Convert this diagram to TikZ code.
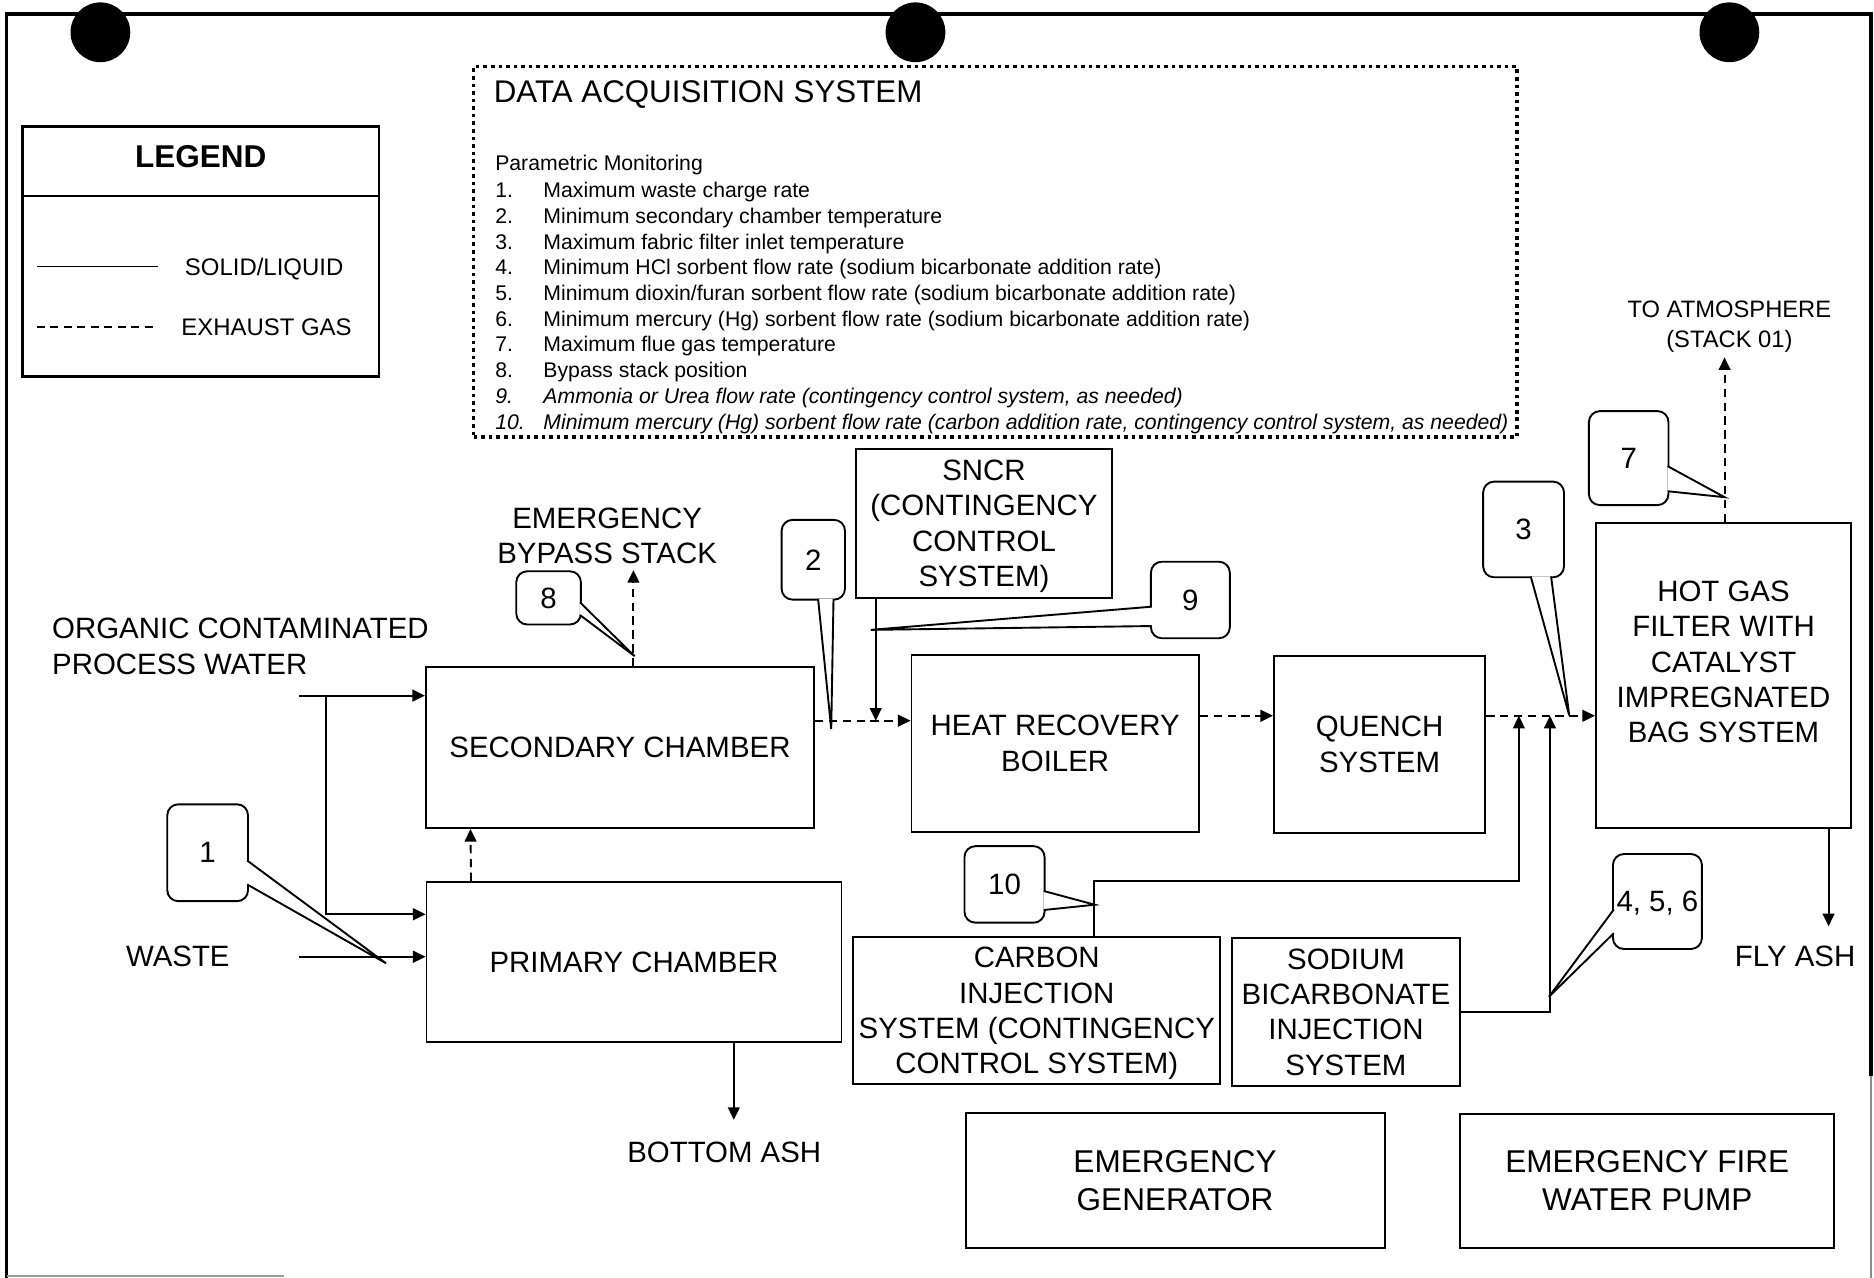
\documentclass[tikz,border=0pt]{standalone}
\usepackage{fontspec}
\setmainfont{Liberation Sans}
\usetikzlibrary{arrows.meta,positioning,calc}
\tikzset{
  flowarr/.style={-{Triangle[length=3pt,width=2.8pt]}, line width=0.45pt},
  gasarr/.style={flowarr, dash pattern=on 2pt off 1.3pt},
  unitbox/.style={draw, line width=0.45pt, align=center, inner sep=0pt, font=\fontsize{7pt}{8.4pt}\selectfont},
  tagbox/.style={draw, line width=0.45pt, rounded corners=2.6pt, fill=white, inner sep=0pt, text depth=0pt, font=\fontsize{7pt}{8.4pt}\selectfont},
  tagwedge/.style={draw, line width=0.45pt, fill=white},
  lbl/.style={align=center, inner sep=0pt, font=\fontsize{7pt}{8.4pt}\selectfont},
}

\begin{document}
\begin{tikzpicture}[
  x=0.01cm, y=-0.01cm,
  smalllbl/.style={lbl, text depth=0pt, font=\fontsize{5.65pt}{7pt}\selectfont},
  leglbl/.style={lbl, text depth=0pt, font=\fontsize{5.7pt}{7pt}\selectfont},
  daqitem/.style={inner sep=0pt, anchor=base west, font=\fontsize{5.05pt}{6.1pt}\selectfont},
  sparebox/.style={unitbox, font=\fontsize{7.5pt}{9.1pt}\selectfont},
]
  \useasboundingbox (0,0) rectangle (1568,1069);

  % sheet edge and punch holes
  \draw[line width=0.9pt] (5.5,1069) -- (5.5,12) -- (1565.5,12) -- (1565.5,900);
  \draw[line width=0.4pt, black!45] (1565.5,900) -- (1565.5,1069);
  \draw[line width=0.5pt, black!40] (5.5,1067.5) -- (238,1067.5);
  \foreach \hx in {84,766,1447}
    \fill (\hx,27) circle (25);

  % legend
  \node[draw, line width=0.55pt, minimum width=2.98cm, minimum height=2.09cm] (legend) at (168,210.5) {};
  \draw[line width=0.55pt] ([yshift=-0.59cm]legend.north west) -- ([yshift=-0.59cm]legend.north east);
  \node[inner sep=0pt, font=\fontsize{7.5pt}{9pt}\selectfont\bfseries] (legtitle) at (168,131) {LEGEND};
  \node[leglbl] (legsolid) at (221,223) {SOLID/LIQUID};
  \node[leglbl] (leggas) at (223,274) {EXHAUST GAS};
  \draw[line width=0.45pt] (31,223) -- (132,223);
  \draw[line width=0.45pt, dash pattern=on 1.9pt off 1.3pt] (31,273.5) -- (132,273.5);

  % data acquisition system
  \node[draw, line width=0.85pt, dash pattern=on 0.85pt off 0.95pt, minimum width=8.724cm, minimum height=3.097cm] (daq) at (832.8,210.65) {};
  \node[inner sep=0pt, anchor=base west, font=\fontsize{7.45pt}{9pt}\selectfont] (daqtitle) at (412.5,86) {DATA ACQUISITION SYSTEM};
  \node[daqitem] (param) at (413.7,143) {Parametric Monitoring};
  \foreach \nr/\txt/\shp [count=\i from 0] in {
    1./Maximum waste charge rate/\upshape,
    2./Minimum secondary chamber temperature/\upshape,
    3./Maximum fabric filter inlet temperature/\upshape,
    4./Minimum HCl sorbent flow rate (sodium bicarbonate addition rate)/\upshape,
    5./{Minimum dioxin/furan sorbent flow rate (sodium bicarbonate addition rate)}/\upshape,
    6./Minimum mercury (Hg) sorbent flow rate (sodium bicarbonate addition rate)/\upshape,
    7./Maximum flue gas temperature/\upshape,
    8./Bypass stack position/\upshape,
    9./{Ammonia or Urea flow rate (contingency control system, as needed)}/\itshape,
    10./{Minimum mercury (Hg) sorbent flow rate (carbon addition rate, contingency control system, as needed)}/\itshape}
    \node[daqitem] (item\i) at (413.7,{165.35+\i*21.52}) {\shp\makebox[11.47pt][l]{\nr}\txt};

  % process units
  \node[unitbox, minimum width=3.245cm, minimum height=1.344cm] (sec) at (518.75,625.6) {SECONDARY CHAMBER};
  \node[unitbox, minimum width=3.47cm, minimum height=1.34cm] (prim) at (530.5,805) {PRIMARY CHAMBER};
  \node[unitbox, minimum width=2.134cm, minimum height=1.243cm, text depth=0pt] (sncr) at (823.3,437.9) {SNCR\\(CONTINGENCY\\CONTROL\\SYSTEM)};
  \node[unitbox, minimum width=2.403cm, minimum height=1.48cm] (hrb) at (882.9,622) {HEAT RECOVERY\\BOILER};
  \node[unitbox, minimum width=1.766cm, minimum height=1.477cm] (quench) at (1154.3,622.9) {QUENCH\\SYSTEM};
  \node[unitbox, minimum width=2.134cm, minimum height=2.554cm, text depth=6.5pt] (filter) at (1442.1,565.3) {HOT GAS\\FILTER WITH\\CATALYST\\IMPREGNATED\\BAG SYSTEM};
  \node[unitbox, minimum width=3.07cm, minimum height=1.233cm, text depth=0pt] (carbon) at (867.5,845.4) {CARBON\\INJECTION\\SYSTEM (CONTINGENCY\\CONTROL SYSTEM)};
  \node[unitbox, minimum width=1.904cm, minimum height=1.234cm] (sodium) at (1126.2,846.7) {SODIUM\\BICARBONATE\\INJECTION\\SYSTEM};
  \node[sparebox, minimum width=3.504cm, minimum height=1.125cm] (gen) at (983.2,987.8) {EMERGENCY\\GENERATOR};
  \node[sparebox, minimum width=3.125cm, minimum height=1.12cm] (pump) at (1378.3,988) {EMERGENCY FIRE\\WATER PUMP};

  % free labels
  \node[lbl, anchor=west, align=left] (water) at (43,540.7) {ORGANIC CONTAMINATED\\PROCESS WATER};
  \node[lbl] (waste) at (148.8,800) {WASTE};
  \node[lbl] (bypass) at (508,448.4) {EMERGENCY\\BYPASS STACK};
  \node[smalllbl] (atmo) at (1447,271.2) {TO ATMOSPHERE\\(STACK 01)};

  % monitoring tags
  \node[tagbox, minimum width=0.675cm, minimum height=0.81cm] (tag1) at (173.75,713.5) {1};
  \coordinate (tip1) at (323,806);
  \filldraw[tagwedge] ([xshift=-0.015cm,yshift=-0.065cm]tag1.east) -- (tip1) -- ([xshift=-0.015cm,yshift=-0.265cm]tag1.east);

  \node[tagbox, minimum width=0.54cm, minimum height=0.445cm] (tag8) at (459,500.25) {8};
  \coordinate (tip8) at (531,549);
  \filldraw[tagwedge] ([xshift=-0.015cm,yshift=-0.0375cm]tag8.east) -- (tip8) -- ([xshift=-0.015cm,yshift=-0.1435cm]tag8.east);

  \node[tagbox, minimum width=0.53cm, minimum height=0.667cm] (tag2) at (680.5,468.35) {2};
  \coordinate (tip2) at (695.5,610);
  \filldraw[tagwedge] ([xshift=0.04cm,yshift=0.015cm]tag2.south) -- (tip2) -- ([xshift=0.169cm,yshift=0.015cm]tag2.south);

  \node[tagbox, minimum width=0.66cm, minimum height=0.64cm] (tag9) at (996,502) {9};
  \coordinate (tip9) at (728.6,527);
  \filldraw[tagwedge] ([xshift=0.015cm,yshift=-0.056cm]tag9.west) -- (tip9) -- ([xshift=0.015cm,yshift=-0.218cm]tag9.west);

  \node[tagbox, minimum width=0.676cm, minimum height=0.80cm] (tag3) at (1274.8,443) {3};
  \coordinate (tip3) at (1313,598.6);
  \filldraw[tagwedge] ([xshift=0.06cm,yshift=0.015cm]tag3.south) -- (tip3) -- ([xshift=0.23cm,yshift=0.015cm]tag3.south);

  \node[tagbox, minimum width=0.665cm, minimum height=0.786cm] (tag7) at (1362.75,383.3) {7};
  \coordinate (tip7) at (1443,416);
  \filldraw[tagwedge] ([xshift=-0.015cm,yshift=-0.067cm]tag7.east) -- (tip7) -- ([xshift=-0.015cm,yshift=-0.277cm]tag7.east);

  \node[tagbox, minimum width=0.67cm, minimum height=0.64cm] (tag10) at (840.5,740) {10};
  \coordinate (tip10) at (916,757);
  \filldraw[tagwedge] ([xshift=-0.015cm,yshift=-0.055cm]tag10.east) -- (tip10) -- ([xshift=-0.015cm,yshift=-0.214cm]tag10.east);

  \node[tagbox, minimum width=0.744cm, minimum height=0.794cm] (tag456) at (1386.8,754.3) {4, 5, 6};
  \coordinate (tip456) at (1296,834);
  \filldraw[tagwedge] ([xshift=0.015cm,yshift=-0.067cm]tag456.west) -- (tip456) -- ([xshift=0.015cm,yshift=-0.265cm]tag456.west);

  % feeds
  \coordinate (pw) at (250,582);
  \coordinate (pj) at (273,582);
  \coordinate (wst) at (250,800.5);
  \draw[flowarr] (pw) -- (pw -| sec.west);
  \draw[flowarr] (pj) |- ([yshift=0.4cm]prim.west);
  \draw[flowarr] (wst) -- (wst -| prim.west);

  % gas path
  \draw[gasarr] ([xshift=0.38cm]prim.north west) -- ([xshift=0.38cm]sec.south west);
  \coordinate (stack) at (530,477);
  \draw[gasarr] (sec.north -| stack) -- (stack);
  \coordinate (hin) at ([yshift=0.19cm]hrb.west);
  \draw[gasarr] (sec.east |- hin) -- (hin);
  \coordinate (drop) at ([xshift=0.17cm]sncr.south west);
  \draw[flowarr] (drop) -- (drop |- hin);
  \coordinate (qin) at ([yshift=0.24cm]quench.west);
  \draw[gasarr] (hrb.east |- qin) -- (qin);
  \coordinate (qout) at (quench.east |- qin);
  \draw[gasarr] (qout) -- (filter.west |- qin);
  \coordinate (atm) at (1443,299);
  \draw[gasarr] (filter.north -| atm) -- (atm);

  % sorbent injection
  \coordinate (carbin) at ([xshift=0.274cm]qout);
  \coordinate (sodin) at ([xshift=0.534cm]qout);
  \draw[flowarr] ([xshift=0.48cm]carbon.north) -- ++(0,-45.7) -| (carbin);
  \draw[flowarr] (sodium.east) -| (sodin);

  % ash
  \coordinate (fly) at (1530,775);
  \draw[flowarr] (filter.south -| fly) -- (fly);
  \node[lbl, below=0.16cm of fly, xshift=-0.28cm] (flyash) {FLY ASH};
  \coordinate (bash) at (614,937);
  \draw[flowarr] (prim.south -| bash) -- (bash);
  \node[lbl, below=0.18cm of bash, xshift=-0.08cm] (bottomash) {BOTTOM ASH};
\end{tikzpicture}
\end{document}
